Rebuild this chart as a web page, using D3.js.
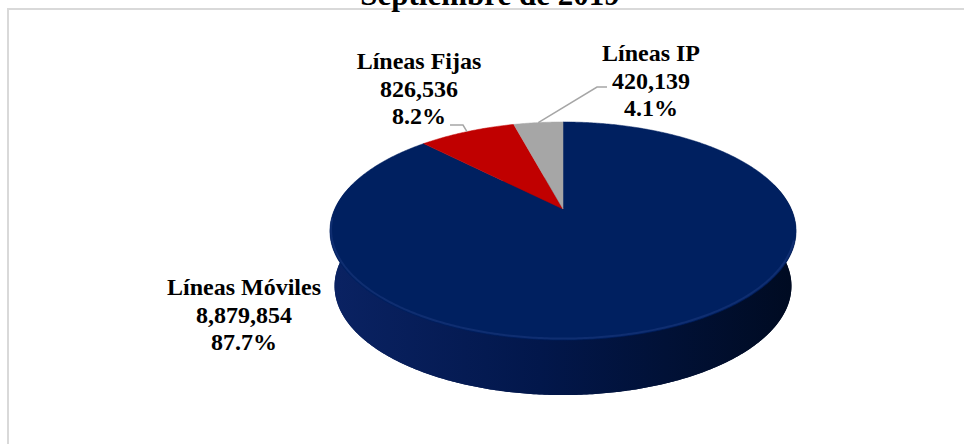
<!DOCTYPE html>
<html>
<head>
<meta charset="utf-8">
<script src="https://cdn.jsdelivr.net/npm/d3@7"></script>
<style>
  body { margin: 0; background: #fff; }
  svg { display: block; }
  text { font-family: "Liberation Serif", "Times New Roman", serif; font-weight: bold; fill: #000; }
</style>
</head>
<body>
<div id="chart"></div>
<script>
// Líneas en servicio por tipo - 3D pie

var categories = ["Líneas Móviles", "Líneas Fijas", "Líneas IP"];
var values = [8879854, 826536, 420139];
var colors = ["#002060", "#C00000", "#A6A6A6"];
var titleText = "Septiembre de 2019";

// label placement (center x, first baseline) and leader elbows
var labelPos = [[244, 295], [419, 69], [651, 61]];
var leaders = [null, [[463, 125], [450, 125]], [[597, 87], [607, 87]]];

var width = 964, height = 444;

// perspective ellipse of the pie top
var cx = 563, cy = 209, A = 228.3, B = 104.6, k = -0.2018;
var depth = 55, bottomScale = 0.98;

function project(phi, dy, s){
  var u = Math.sin(phi), v = -Math.cos(phi);
  var w = 1 + k * v;
  return [cx + s * A * u / w, cy + B * v / w + dy];
}

function arcPoints(a0, a1, dy, s){
  var pts = [];
  var n = Math.max(2, Math.ceil(Math.abs(a1 - a0) / 0.01));
  for(var i = 0; i <= n; i++){
    pts.push(project(a0 + (a1 - a0) * i / n, dy, s));
  }
  return pts;
}

var svg = d3.select("#chart").append("svg")
    .attr("width", width)
    .attr("height", height);

var defs = svg.append("defs");
var grad = defs.append("linearGradient")
    .attr("id", "sideGrad")
    .attr("gradientUnits", "userSpaceOnUse")
    .attr("x1", cx - A).attr("x2", cx + A)
    .attr("y1", 0).attr("y2", 0);
grad.append("stop").attr("offset", "0").attr("stop-color", "#0a2262");
grad.append("stop").attr("offset", "0.45").attr("stop-color", "#02174b");
grad.append("stop").attr("offset", "1").attr("stop-color", "#000b22");

// frame
svg.append("rect")
    .attr("x", 8).attr("y", 9)
    .attr("width", width + 20).attr("height", height + 20)
    .attr("fill", "none")
    .attr("stroke", "#d9d9d9")
    .attr("stroke-width", 2);

svg.append("text")
    .attr("x", 490)
    .attr("y", 5)
    .attr("text-anchor", "middle")
    .attr("font-size", 31)
    .text(titleText);

var line = d3.line();
var total = d3.sum(values);
var fmtNum = d3.format(",");
var fmtPct = d3.format(".1%");

var pie = d3.pie().sort(null).startAngle(0).endAngle(2 * Math.PI);
var slices = pie(values);

var g = svg.append("g");

// bottom ellipse and side wall
g.append("path")
    .attr("d", line(arcPoints(0, 2 * Math.PI, depth, bottomScale)) + "Z")
    .attr("fill", "url(#sideGrad)");

var sideTop = arcPoints(Math.PI / 2 - 0.25, 3 * Math.PI / 2 + 0.25, 0, 1);
var sideBottom = arcPoints(3 * Math.PI / 2 + 0.25, Math.PI / 2 - 0.25, depth, bottomScale);
g.append("path")
    .attr("d", line(sideTop.concat(sideBottom)) + "Z")
    .attr("fill", "url(#sideGrad)");

// top faces
g.selectAll("path.slice")
    .data(slices)
    .enter().append("path")
      .attr("class", "slice")
      .attr("d", function(d){
        var pts = [[cx, cy]].concat(arcPoints(d.startAngle, d.endAngle, 0, 1));
        return line(pts) + "Z";
      })
      .attr("fill", function(d, i){ return colors[i]; })
      .attr("stroke", function(d, i){ return colors[i]; })
      .attr("stroke-width", 0.5);

// soft highlight on front rim
g.append("path")
    .attr("d", line(arcPoints(Math.PI / 2 + 0.3, 3 * Math.PI / 2 - 0.1, -1.5, 0.995)))
    .attr("fill", "none")
    .attr("stroke", "#1d3c82")
    .attr("stroke-opacity", 0.5)
    .attr("stroke-width", 2);

// leader lines
slices.forEach(function(d, i){
  if(leaders[i] == null) return;
  var mid = (d.startAngle + d.endAngle) / 2;
  var pts = [project(mid, 0, 1)].concat(leaders[i]);
  svg.append("path")
      .attr("d", line(pts))
      .attr("fill", "none")
      .attr("stroke", "#a6a6a6")
      .attr("stroke-width", 1.5);
});

// labels
var lab = svg.selectAll("text.lab")
    .data(slices)
    .enter().append("text")
      .attr("class", "lab")
      .attr("text-anchor", "middle")
      .attr("font-size", 24);

lab.each(function(d, i){
  var t = d3.select(this);
  var lines = [categories[i], fmtNum(values[i]), fmtPct(values[i] / total)];
  lines.forEach(function(s, j){
    t.append("tspan")
      .attr("x", labelPos[i][0])
      .attr("y", labelPos[i][1] + j * 27.5)
      .text(s);
  });
});
</script>
</body>
</html>
